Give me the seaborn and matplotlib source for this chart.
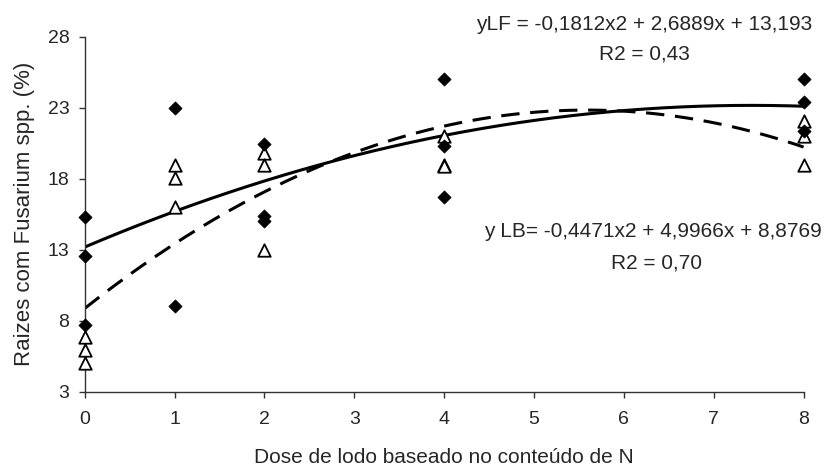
import numpy as np
import pandas as pd
import matplotlib
matplotlib.use('agg')
import matplotlib.pyplot as plt
import seaborn as sns

## observed points (dose, % roots with Fusarium)
lf_dose = [0, 0, 0, 1, 1, 2, 2, 2, 4, 4, 4, 8, 8, 8]
lf_value = [15.3, 12.55, 7.7, 23.0, 9.05, 20.45, 15.4, 15.0, 25.05, 20.3, 16.7, 25.0, 23.4, 21.35]
lb_dose = [0, 0, 0, 1, 1, 1, 2, 2, 2, 4, 4, 4, 8, 8, 8]
lb_value = [6.85, 5.95, 5.0, 19.0, 18.05, 16.0, 19.85, 19.0, 13.0, 21.0, 19.0, 18.9, 22.05, 21.0, 19.0]

## trendline coefficients shown on the chart (a, b, c)
lf_coef = [-0.1812, 2.6889, 13.193]
lb_coef = [-0.4471, 4.9966, 8.8769]

x_ticks = [0, 1, 2, 3, 4, 5, 6, 7, 8]
y_ticks = [3, 8, 13, 18, 23, 28]

sns.set_theme(style="ticks")
plt.rcParams['font.family'] = ['Liberation Sans', 'DejaVu Sans']

lf = pd.DataFrame({'dose': lf_dose, 'val': lf_value})
lb = pd.DataFrame({'dose': lb_dose, 'val': lb_value})
xs = np.linspace(0, 8, 200)
curves = pd.DataFrame({'x': xs,
                       'lf': np.polyval(lf_coef, xs),
                       'lb': np.polyval(lb_coef, xs)})

fig = plt.figure(figsize=(8.31, 4.71), dpi=100)
ax = fig.add_axes([0.102, 0.168, 0.865, 0.754])

sns.lineplot(data=curves, x='x', y='lf', color='black', lw=2.2, ax=ax)
sns.lineplot(data=curves, x='x', y='lb', color='black', lw=2.2, ax=ax)
ax.lines[-1].set_dashes([6, 3.5])

sns.scatterplot(data=lb, x='dose', y='val', marker='^', s=80, facecolor='white',
                edgecolor='black', linewidth=1.3, ax=ax, zorder=3, clip_on=False)
sns.scatterplot(data=lf, x='dose', y='val', marker='D', s=45, color='black',
                edgecolor='black', ax=ax, zorder=4, clip_on=False)

ax.set_xlim(0, 8)
ax.set_ylim(3, 28)
ax.set_xticks(x_ticks)
ax.set_yticks(y_ticks)
ax.tick_params(labelsize=14, length=4, width=1, color='#333333')
ax.tick_params(axis='x', pad=10)
ax.tick_params(axis='y', pad=7)
sns.despine(ax=ax)
for s in ['left', 'bottom']:
    ax.spines[s].set_linewidth(1)
    ax.spines[s].set_color('#333333')

ax.set_xlabel('Dose de lodo baseado no conteúdo de N', fontsize=15, labelpad=14)
ax.set_ylabel('Raizes com Fusarium spp. (%)', fontsize=16, labelpad=9)

ax.text(6.23, 28.85, 'yLF = -0,1812x2 + 2,6889x + 13,193', ha='center', va='center', fontsize=15)
ax.text(6.23, 26.8, 'R2 = 0,43', ha='center', va='center', fontsize=15)
ax.text(6.32, 14.3, 'y LB= -0,4471x2 + 4,9966x + 8,8769', ha='center', va='center', fontsize=15)
ax.text(6.36, 12.1, 'R2 = 0,70', ha='center', va='center', fontsize=15)

fig.savefig('out.png', dpi=100)
